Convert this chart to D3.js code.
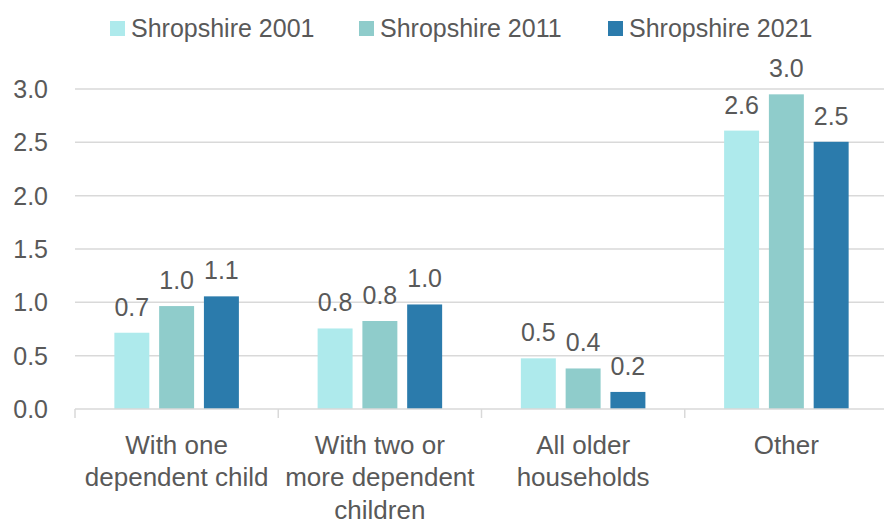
<!DOCTYPE html>
<html>
<head>
<meta charset="utf-8">
<script src="https://cdn.jsdelivr.net/npm/d3@7"></script>
<style>
  html, body { margin: 0; padding: 0; background: #fff; }
  svg { display: block; }
  text { font-family: "Liberation Sans", Arial, sans-serif; fill: #595959; }
</style>
</head>
<body>
<svg id="chart" width="884" height="525"></svg>
<script>
// ---- data ----
const categories = [
  ["With one", "dependent child"],
  ["With two or", "more dependent", "children"],
  ["All older", "households"],
  ["Other"]
];
const seriesNames = ["Shropshire 2001", "Shropshire 2011", "Shropshire 2021"];
const values2001 = [0.715, 0.755, 0.475, 2.61];
const values2011 = [0.965, 0.825, 0.38, 2.95];
const values2021 = [1.056, 0.98, 0.16, 2.505];
const yTicks = [0, 0.5, 1.0, 1.5, 2.0, 2.5, 3.0];
const colors = ["#AEEAEC", "#8FCCCB", "#2B7BAC"];

(function () {
const seriesValues = [values2001, values2011, values2021];
const catKeys = categories.map((c, i) => "c" + i);

const svg = d3.select("#chart");
const mLeft = 75, mRight = 888, mTop = 89, mBottom = 409;

const x0 = d3.scaleBand().domain(catKeys).range([mLeft, mRight]).paddingInner(0).paddingOuter(0);
const x1 = d3.scaleBand().domain(seriesNames).range([0, x0.bandwidth()]).paddingInner(0.219).paddingOuter(0.879);
const y = d3.scaleLinear().domain([0, 3]).range([mBottom, mTop]);

// gridlines
svg.append("g").selectAll("line").data(yTicks.filter(t => t > 0)).join("line")
  .attr("x1", mLeft).attr("x2", 884)
  .attr("y1", d => y(d)).attr("y2", d => y(d))
  .attr("stroke", "#D9D9D9").attr("stroke-width", 1.5);

// y tick labels
svg.append("g").selectAll("text").data(yTicks).join("text")
  .attr("x", 48).attr("y", d => y(d))
  .attr("text-anchor", "end").attr("dominant-baseline", "central")
  .style("font-size", "25px")
  .text(d => d3.format(".1f")(d));

// bars
const groups = svg.append("g").selectAll("g").data(catKeys).join("g")
  .attr("transform", d => `translate(${x0(d)},0)`);

groups.each(function(key, ci) {
  const g = d3.select(this);
  const data = seriesNames.map((s, si) => ({ s, si, v: seriesValues[si][ci] }));
  g.selectAll("rect").data(data).join("rect")
    .attr("x", d => x1(d.s)).attr("width", x1.bandwidth())
    .attr("y", d => y(d.v)).attr("height", d => y(0) - y(d.v))
    .attr("fill", d => colors[d.si]);
  g.selectAll("text.lab").data(data).join("text")
    .attr("class", "lab")
    .attr("x", d => x1(d.s) + x1.bandwidth() / 2)
    .attr("y", d => y(d.v) - 26)
    .attr("text-anchor", "middle").attr("dominant-baseline", "central")
    .style("font-size", "25px")
    .text(d => d3.format(".1f")(d.v));
});

// x axis line + ticks
svg.append("line").attr("x1", mLeft).attr("x2", 884).attr("y1", mBottom).attr("y2", mBottom)
  .attr("stroke", "#D9D9D9").attr("stroke-width", 1.5);
svg.append("g").selectAll("line").data(catKeys).join("line")
  .attr("x1", d => x0(d)).attr("x2", d => x0(d))
  .attr("y1", mBottom).attr("y2", mBottom + 9)
  .attr("stroke", "#D9D9D9").attr("stroke-width", 1.5);

// x labels
const xl = svg.append("g").selectAll("text").data(catKeys).join("text")
  .attr("x", d => x0(d) + x0.bandwidth() / 2)
  .attr("text-anchor", "middle")
  .style("font-size", "26px");
xl.each(function(key, ci) {
  d3.select(this).selectAll("tspan").data(categories[ci]).join("tspan")
    .attr("x", x0(key) + x0.bandwidth() / 2)
    .attr("y", (d, i) => 453.5 + i * 32.5)
    .text(d => d);
});

// legend
const leg = svg.append("g").selectAll("g").data(seriesNames).join("g")
  .attr("transform", (d, i) => `translate(${110 + i * 249},0)`);
leg.append("rect").attr("x", 0).attr("y", 21).attr("width", 15).attr("height", 15)
  .attr("fill", (d, i) => colors[i]);
leg.append("text").attr("x", 21).attr("y", 36.5)
  .style("font-size", "25px").text(d => d);
})();
</script>
</body>
</html>
